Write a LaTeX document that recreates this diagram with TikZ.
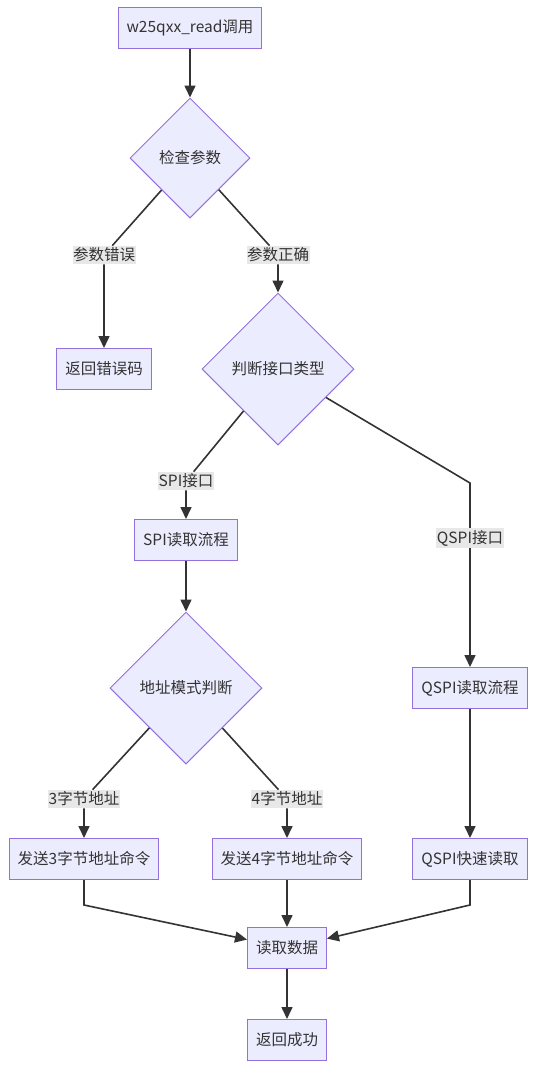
\documentclass[tikz,border=0pt]{standalone}
\usepackage{fontspec}
\setmainfont{Noto Sans CJK SC}
\usetikzlibrary{shapes.geometric, arrows.meta}
\definecolor{nodefill}{HTML}{ECECFF}
\definecolor{nodeline}{HTML}{9370DB}
\definecolor{edgeline}{HTML}{333333}
\definecolor{lblfill}{HTML}{E8E8E8}

\begin{document}
\begin{tikzpicture}[x=1pt, y=-1pt,
  font=\fontsize{15.5}{18}\selectfont,
  pbox/.style={draw=nodeline, fill=nodefill, line width=1pt, minimum height=41pt, inner xsep=8.5pt, text=edgeline},
  pdiam/.style={diamond, aspect=1, draw=nodeline, fill=nodefill, line width=1pt, inner sep=0pt, text=edgeline},
  elbl/.style={fill=lblfill, inner xsep=0.5pt, inner ysep=2pt, text=edgeline},
  flow/.style={draw=edgeline, line width=1.6pt, -{Triangle[length=12pt,width=11pt]}}
]
  \useasboundingbox (0,0) rectangle (537,1069);

  % main nodes
  \node[pbox] (call) at (190,28) {w25qxx\_read调用};
  \node[pdiam, minimum size=120pt] (chk) at (190,158) {检查参数};
  \node[pbox] (err) at (104,369) {返回错误码};
  \node[pdiam, minimum size=152pt] (ifc) at (278,369) {判断接口类型};
  \node[pbox] (spi) at (186,540) {SPI读取流程};
  \node[pdiam, minimum size=152pt] (amode) at (186,688) {地址模式判断};
  \node[pbox] (qspi) at (470,688) {QSPI读取流程};
  \node[pbox] (send3) at (84,859) {发送3字节地址命令};
  \node[pbox] (send4) at (287,859) {发送4字节地址命令};
  \node[pbox] (qfast) at (470,859) {QSPI快速读取};
  \node[pbox] (rdata) at (287,948) {读取数据};
  \node[pbox] (ok) at (287,1040) {返回成功};

  % edge labels
  \node[elbl] (lerr) at (104,255) {参数错误};
  \node[elbl] (lok) at (278,255) {参数正确};
  \node[elbl] (lspi) at (186,481) {SPI接口};
  \node[elbl] (lqspi) at (470,538) {QSPI接口};
  \node[elbl] (l3) at (84,799) {3字节地址};
  \node[elbl] (l4) at (287,799) {4字节地址};

  % bend points
  \coordinate (cq) at (470,483);
  \coordinate (c3) at (84,905);
  \coordinate (c4) at (470,905);

  % connectors
  \draw[flow] (call) -- (chk);
  \draw[flow] (chk) -- (lerr) -- (err);
  \draw[flow] (chk) -- (lok) -- (ifc);
  \draw[flow] (ifc) -- (lspi) -- (spi);
  \draw[flow] (ifc) -- (cq) -- (lqspi) -- (qspi);
  \draw[flow] (spi) -- (amode);
  \draw[flow] (amode) -- (l3) -- (send3);
  \draw[flow] (amode) -- (l4) -- (send4);
  \draw[flow] (qspi) -- (qfast);
  \draw[flow] (send3) -- (c3) -- (rdata);
  \draw[flow] (send4) -- (rdata);
  \draw[flow] (qfast) -- (c4) -- (rdata);
  \draw[flow] (rdata) -- (ok);
\end{tikzpicture}
\end{document}
